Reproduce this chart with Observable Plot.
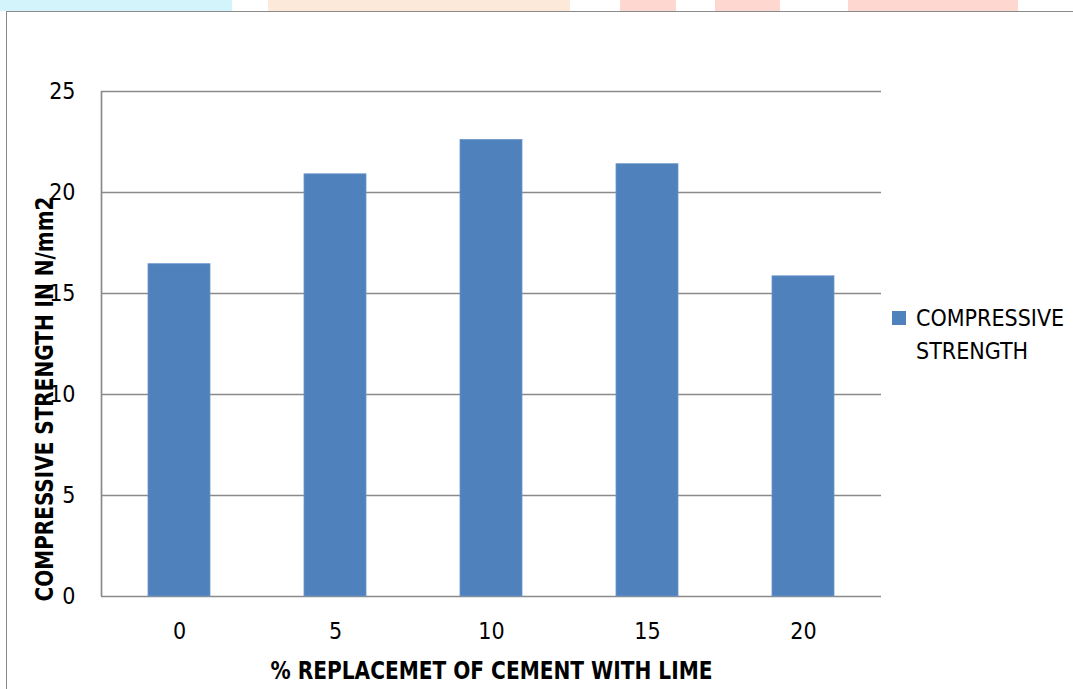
<!DOCTYPE html>
<html>
<head>
<meta charset="utf-8">
<script src="https://cdn.jsdelivr.net/npm/d3@7"></script>
<script src="https://cdn.jsdelivr.net/npm/@observablehq/plot@0.6"></script>
<style>
  html, body { margin: 0; padding: 0; background: #fff; }
  body { width: 1073px; height: 689px; position: relative; overflow: hidden;
         font-family: "DejaVu Sans Condensed", "Liberation Sans", sans-serif; }
  .wm { position: absolute; top: 0; height: 11px; }
  #frame { position: absolute; left: 6px; top: 11px; width: 1100px; height: 700px;
           border-left: 1.5px solid #8a8a8a; border-top: 1.5px solid #8a8a8a; background: #fff; }
  #chart { position: absolute; left: 0; top: 0; }
  #legend { position: absolute; left: 892px; top: 302px; font-size: 23px; line-height: 33px; color: #000; }
  #legend .sw { position: absolute; left: 0; top: 9px; width: 14px; height: 14px; background: #4f81bd; }
  #legend .tx { position: absolute; left: 24px; top: 0; white-space: nowrap; }
</style>
</head>
<body>
<div class="wm" style="left:0;width:232px;background:#d3f4fb"></div>
<div class="wm" style="left:268px;width:302px;background:#fde9da"></div>
<div class="wm" style="left:620px;width:56px;background:#fdd7d0"></div>
<div class="wm" style="left:715px;width:65px;background:#fdd7d0"></div>
<div class="wm" style="left:848px;width:170px;background:#fdd7d0"></div>
<div id="frame"></div>
<div id="chart"></div>
<div id="legend"><div class="sw"></div><div class="tx">COMPRESSIVE<br>STRENGTH</div></div>
<script>
const categories = ["0", "5", "10", "15", "20"];
const strength = [16.45, 20.9, 22.6, 21.4, 15.85];
const yTicks = [0, 5, 10, 15, 20, 25];
const xTitle = "% REPLACEMET OF CEMENT WITH LIME";
const yTitle = "COMPRESSIVE STRENGTH IN N/mm2";

const data = categories.map((c, i) => ({cat: c, value: strength[i]}));
const font = '"DejaVu Sans Condensed", "Liberation Sans", sans-serif';

const chart = Plot.plot({
  width: 1073,
  height: 689,
  marginLeft: 101,
  marginRight: 192,
  marginTop: 91,
  marginBottom: 93,
  style: {background: "transparent", fontFamily: font, color: "#000"},
  x: {domain: categories, paddingInner: 0.6, paddingOuter: 0.3, label: null},
  y: {domain: [0, 25], label: null},
  marks: [
    Plot.gridY(yTicks, {stroke: "#8a8a8a", strokeOpacity: 1, strokeWidth: 1.7}),
    Plot.ruleX([categories[0]], {stroke: "#8a8a8a", strokeWidth: 1.7, dx: -78}),
    Plot.barY(data, {x: "cat", y: "value", fill: "#4f81bd", stroke: "#6b97cb", strokeWidth: 0.8}),
    Plot.axisY(yTicks, {tickSize: 0, tickPadding: 26, fontSize: 23, label: null}),
    Plot.axisX(categories, {tickSize: 0, tickPadding: 26, fontSize: 23, label: null}),
    Plot.text([xTitle], {frameAnchor: "bottom", dy: 82, fontSize: 24, fontWeight: "bold", className: "xtitle"}),
    Plot.text([yTitle], {frameAnchor: "left", textAnchor: "middle", rotate: -90, dx: -56, dy: 55, fontSize: 24, fontWeight: "bold", className: "ytitle"})
  ]
});
d3.select(chart).selectAll("text").each(function() {
  const t = this.textContent;
  if (t === xTitle) { this.setAttribute("textLength", 442); this.setAttribute("lengthAdjust", "spacingAndGlyphs"); }
  if (t === yTitle) { this.setAttribute("textLength", 405); this.setAttribute("lengthAdjust", "spacingAndGlyphs"); }
});
document.getElementById("chart").appendChild(chart);
</script>
</body>
</html>
